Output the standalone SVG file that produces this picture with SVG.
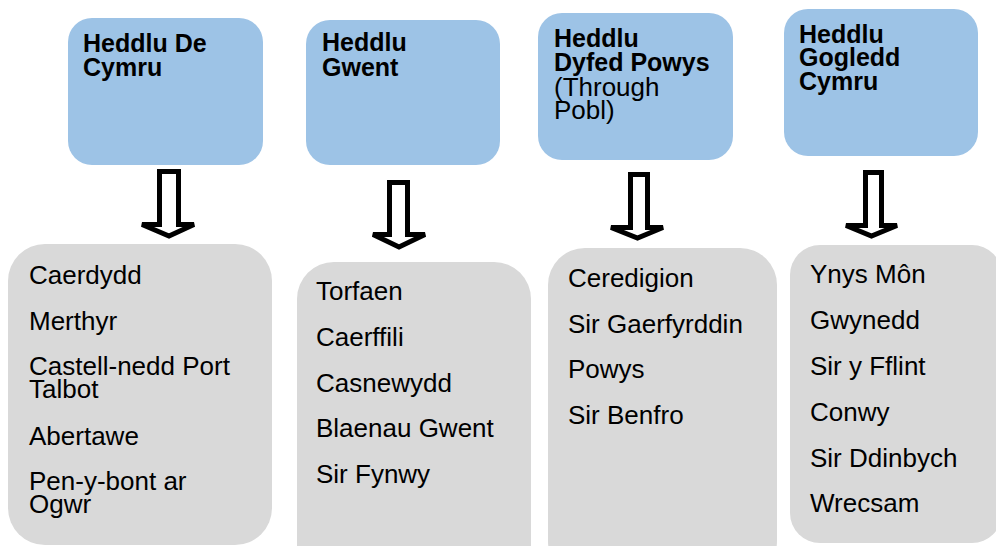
<svg xmlns="http://www.w3.org/2000/svg" width="996" height="546" viewBox="0 0 996 546">
<style>
.hdr{fill:#9DC3E6;}
.lst{fill:#D9D9D9;}
.b{font-family:"Liberation Sans",Arial,sans-serif;font-weight:bold;font-size:25px;fill:#000;}
.r{font-family:"Liberation Sans",Arial,sans-serif;font-size:26px;fill:#000;}
.n{font-weight:normal;font-size:26px;}
.arr{fill:#fff;stroke:#000;stroke-width:5;stroke-linejoin:miter;stroke-miterlimit:4;}
</style>
<rect width="996" height="546" fill="#fff"/>
<g id="force1">
<rect class="hdr" x="68" y="18" width="195" height="147" rx="24"/>
<text class="b" x="83" y="52">Heddlu De<tspan x="83" y="76">Cymru</tspan></text>
</g>
<g id="force2">
<rect class="hdr" x="306" y="20" width="194" height="145" rx="24"/>
<text class="b" x="322" y="51">Heddlu<tspan x="322" y="76">Gwent</tspan></text>
</g>
<g id="force3">
<rect class="hdr" x="538" y="13" width="195" height="147" rx="24"/>
<text class="b" x="554" y="47">Heddlu<tspan x="554" y="71">Dyfed Powys</tspan><tspan class="n" x="554" y="96">(Through</tspan><tspan class="n" x="554" y="119">Pobl)</tspan></text>
</g>
<g id="force4">
<rect class="hdr" x="784" y="9" width="194" height="147" rx="24"/>
<text class="b" x="799" y="43">Heddlu<tspan x="799" y="66">Gogledd</tspan><tspan x="799" y="90">Cymru</tspan></text>
</g>
<g id="connectors">
<path class="arr" d="M159.5,171.5 H178.5 V224.5 H194 L169,236 L142,224.5 H159.5 Z"/>
<path class="arr" d="M389.5,182.5 H407.5 V234.5 H425 L399,247 L373,234.5 H389.5 Z"/>
<path class="arr" d="M630.5,174.5 H647.5 V227.5 H663 L637.5,238 L611,227.5 H630.5 Z"/>
<path class="arr" d="M865.5,172.5 H881.5 V225.5 H897 L871.5,236 L846,225.5 H865.5 Z"/>
</g>
<g id="list1">
<rect class="lst" x="8" y="244" width="264" height="301" rx="37"/>
<text class="r" x="29" y="284">Caerdydd</text>
<text class="r" x="29" y="330">Merthyr</text>
<text class="r" x="29" y="375">Castell-nedd Port<tspan x="29" y="398">Talbot</tspan></text>
<text class="r" x="29" y="445">Abertawe</text>
<text class="r" x="29" y="490">Pen-y-bont ar<tspan x="29" y="513">Ogwr</tspan></text>
</g>
<g id="list2">
<rect class="lst" x="297" y="262" width="234" height="320" rx="37"/>
<text class="r" x="316" y="300">Torfaen</text>
<text class="r" x="316" y="346">Caerffili</text>
<text class="r" x="316" y="392">Casnewydd</text>
<text class="r" x="316" y="437">Blaenau Gwent</text>
<text class="r" x="316" y="483">Sir Fynwy</text>
</g>
<g id="list3">
<rect class="lst" x="548" y="248" width="229" height="330" rx="37"/>
<text class="r" x="568" y="287">Ceredigion</text>
<text class="r" x="568" y="333">Sir Gaerfyrddin</text>
<text class="r" x="568" y="378">Powys</text>
<text class="r" x="568" y="424">Sir Benfro</text>
</g>
<g id="list4">
<rect class="lst" x="790" y="245" width="212" height="298" rx="30"/>
<text class="r" x="810" y="283">Ynys Môn</text>
<text class="r" x="810" y="329">Gwynedd</text>
<text class="r" x="810" y="375">Sir y Fflint</text>
<text class="r" x="810" y="421">Conwy</text>
<text class="r" x="810" y="467">Sir Ddinbych</text>
<text class="r" x="810" y="512">Wrecsam</text>
</g>
</svg>
